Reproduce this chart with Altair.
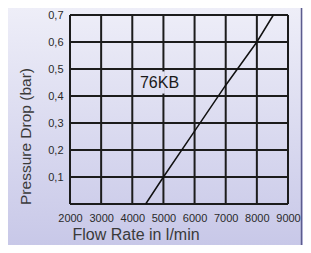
import altair as alt
import pandas as pd

# Data
curve_flow = [4430, 5000, 6000, 7000, 8000, 8530]
curve_dp = [0.0, 0.1, 0.27, 0.44, 0.6, 0.7]
x_ticks = [2000, 3000, 4000, 5000, 6000, 7000, 8000, 9000]
y_grid = [0.0, 0.1, 0.2, 0.3, 0.4, 0.5, 0.6, 0.7]
y_labels = [0.1, 0.2, 0.3, 0.4, 0.5, 0.6, 0.7]
series_label = ["76KB"]
label_pos_flow = [4874]
label_pos_dp = [0.428]
x_min, x_max = 2000, 9000
y_min, y_max = 0.0, 0.7

GRID = "#1c1c1c"
TITLE_FONT = "Liberation Sans"


def X():
    return alt.X(
        "flow:Q",
        scale=alt.Scale(domain=[x_min, x_max], nice=False, zero=False),
        axis=alt.Axis(
            values=x_ticks, format="d", grid=False, domain=False, ticks=False,
            labelPadding=8, labelFont="Liberation Sans", labelFontSize=11,
            labelColor="#2a2a2a", labelFlush=False, labelOverlap=False,
            title="Flow Rate in l/min", titleFont=TITLE_FONT, titleFontSize=16,
            titleFontWeight="normal", titleColor="#3a3a3a",
            titleX=2, titleY=35, titleAlign="left", titleBaseline="alphabetic",
            zindex=1,
        ),
    )


def Y():
    return alt.Y(
        "dp:Q",
        scale=alt.Scale(domain=[y_min, y_max], nice=False, zero=False),
        axis=alt.Axis(
            values=y_labels, grid=False, domain=False, ticks=False,
            labelExpr="replace(format(datum.value, '.1f'), '.', ',')",
            labelPadding=7, labelFont="Liberation Sans", labelFontSize=11,
            labelColor="#2a2a2a", labelFlush=False, labelOverlap=False,
            title="Pressure Drop (bar)", titleFont=TITLE_FONT, titleFontSize=15.5,
            titleFontWeight="normal", titleColor="#3a3a3a",
            titleX=-40, titleY=121, titleAngle=270, titleAlign="center",
            titleBaseline="alphabetic",
            zindex=1,
        ),
    )


bg = alt.Chart(pd.DataFrame({"a": [0]})).mark_rect(
    fill=alt.LinearGradient(
        gradient="linear",
        stops=[alt.GradientStop(color="#eeeef8", offset=0),
               alt.GradientStop(color="#c8c8e8", offset=1)],
        x1=0, x2=0, y1=0, y2=1,
    )
).encode(x=alt.value(-62), x2=alt.value(233), y=alt.value(-7), y2=alt.value(230))

border = alt.Chart(pd.DataFrame({"a": [0]})).mark_rule(
    color="#5c5c8e", strokeWidth=1.5
).encode(x=alt.value(231.5), y=alt.value(-7), y2=alt.value(230))

vg = pd.DataFrame({"flow": x_ticks, "dp": [y_min] * len(x_ticks), "hi": [y_max] * len(x_ticks)})
vgrid = alt.Chart(vg).mark_rule(color=GRID, strokeWidth=2).encode(x=X(), y=Y(), y2="hi:Q")

hg = pd.DataFrame({"dp": y_grid, "flow": [x_min] * len(y_grid), "hi": [x_max] * len(y_grid)})
hgrid = alt.Chart(hg).mark_rule(color=GRID, strokeWidth=2).encode(y=Y(), x=X(), x2="hi:Q")

mk = pd.DataFrame({"flow": [4955], "x2": [5045], "dp": [0.409], "y2": [0.491]})
mask = alt.Chart(mk).mark_rect(color="#e2e2f2").encode(x=X(), x2="x2:Q", y=Y(), y2="y2:Q")

curve = alt.Chart(pd.DataFrame({"flow": curve_flow, "dp": curve_dp})).mark_line(
    color="#111111", strokeWidth=1.5
).encode(x=X(), y=Y())

label = alt.Chart(pd.DataFrame({"flow": label_pos_flow, "dp": label_pos_dp, "t": series_label})).mark_text(
    font="Liberation Sans", fontSize=16, color="#1a1a1a", align="center", baseline="alphabetic"
).encode(x=X(), y=Y(), text="t:N")

chart = alt.layer(bg, border, vgrid, hgrid, mask, curve, label).properties(
    width=218,
    height=189,
    autosize=alt.AutoSizeParams(type="none"),
    padding={"left": 62, "top": 7, "right": 15, "bottom": 41},
    background="#e0e0f0",
).configure_view(stroke=None)

chart.save("out.html", embed_options={"renderer": "svg", "actions": False})
